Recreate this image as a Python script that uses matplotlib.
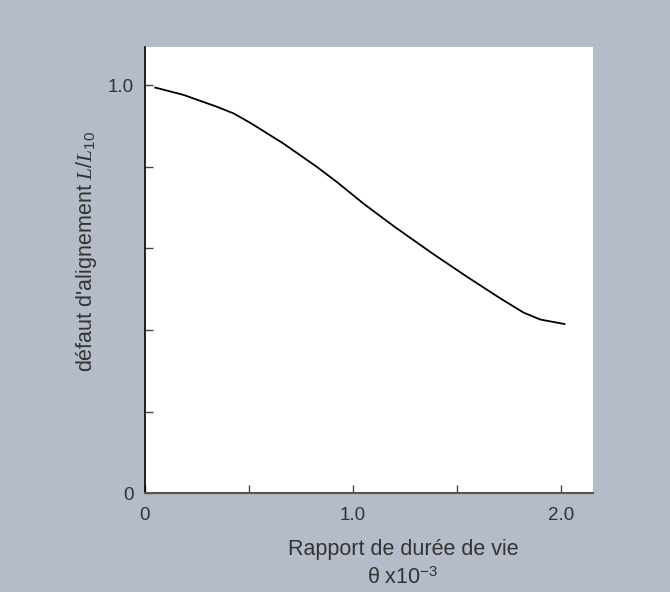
import numpy as np
import matplotlib
matplotlib.use('Agg')
import matplotlib.pyplot as plt

# curve (life ratio vs misalignment factor L/L10)
ratio = [0.051, 0.187, 0.347, 0.426, 0.506, 0.666, 0.826, 0.922, 1.050,
         1.194, 1.386, 1.546, 1.706, 1.818, 1.898, 2.014]
factor = [0.994, 0.976, 0.947, 0.931, 0.908, 0.857, 0.800, 0.763, 0.710,
          0.655, 0.586, 0.531, 0.478, 0.443, 0.426, 0.415]

xticks = [0, 0.5, 1.0, 1.5, 2.0]
xticklabels = ['0', '', '1.0', '', '2.0']
yticks = [0, 0.2, 0.4, 0.6, 0.8, 1.0]
yticklabels = ['0', '', '', '', '', '1.0']

plt.rcParams['font.family'] = ['Liberation Sans', 'DejaVu Sans']
plt.rcParams['mathtext.fontset'] = 'custom'
plt.rcParams['mathtext.rm'] = 'Liberation Sans'
plt.rcParams['mathtext.it'] = 'Liberation Serif:italic'

bg = '#b5bcc9'
txt = '#333333'

fig = plt.figure(figsize=(6.7, 5.92), dpi=100, facecolor=bg)
ax = fig.add_axes([0.2157, 0.1664, 0.669, 0.7547])
ax.set_facecolor('white')

ax.plot(ratio, factor, color='black', lw=1.3, solid_joinstyle='round')

ax.set_xlim(0, 2.15)
ax.set_ylim(0, 1.094)
ax.set_xticks(xticks)
ax.set_xticklabels(xticklabels)
ax.set_yticks(yticks)
ax.set_yticklabels(yticklabels)

ax.spines['top'].set_visible(False)
ax.spines['right'].set_visible(False)
ax.spines['left'].set_color('black')
ax.spines['left'].set_linewidth(1.2)
ax.spines['bottom'].set_color('#555555')
ax.spines['bottom'].set_linewidth(1.5)
ax.tick_params(axis='both', direction='in', length=6, width=1, colors='#444444',
               labelcolor=txt, labelsize=13.5)
ax.tick_params(axis='x', pad=10)
ax.tick_params(axis='y', pad=8)

fig.text(86.5 / 670, 1 - 251 / 592, "défaut d'alignement $\\mathit{L/L}_{\\mathit{10}}$",
         rotation=90, ha='center', va='center', fontsize=15.5, color=txt)
fig.text(403 / 670, 1 - 549 / 592, 'Rapport de durée de vie',
         ha='center', va='center', fontsize=15.5, color=txt)
fig.text(403 / 670, 1 - 578 / 592, 'θ x$\\mathit{10}^{\\mathit{-3}}$',
         ha='center', va='center', fontsize=15.5, color=txt)

fig.savefig('out.png', dpi=100, facecolor=bg)
